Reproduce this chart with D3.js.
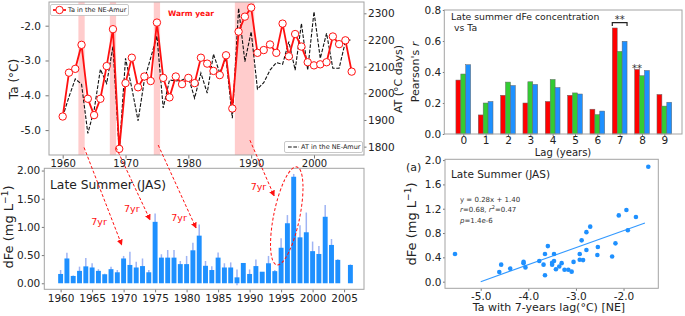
<!DOCTYPE html>
<html><head><meta charset="utf-8">
<script src="https://cdn.jsdelivr.net/npm/d3@7"></script>
<style>body{margin:0;background:#fff}svg{display:block}text{font-family:"DejaVu Sans",sans-serif}</style>
</head><body><svg id="c" width="685" height="316"></svg>
<script>
// ---------------- DATA ----------------
const years = d3.range(1960, 2007);
const taNE = [-4.61,-3.35,-3.24,-2.55,-4.10,-4.57,-4.10,-3.16,-2.10,-5.54,
  -3.65,-2.92,-3.77,-3.46,-3.59,-1.91,-3.50,-4.06,-3.46,-3.68,
  -3.50,-3.65,-2.92,-3.09,-3.30,-3.42,-2.85,-4.38,-2.17,-1.74,
  -1.48,-2.78,-2.70,-2.54,-2.78,-1.94,-2.88,-2.24,-2.60,-3.05,
  -3.14,-3.11,-3.05,-2.31,-2.53,-2.42,-3.32];
const atNE = [1912,1987,2054,2034,1850,1937,2090,2037,2175,1780,
  2131,2020,1897,2050,2132,2215,1945,2050,2046,2050,
  2061,1982,2076,2001,2147,2076,2132,1907,2319,2119,
  2231,2016,2040,2087,2115,2109,2194,2087,2262,2087,
  2306,2131,2225,2094,2094,2194,2202];
const warmSpans = [[1962.5,1963.5],[1967.5,1968.5],[1974.5,1975.5],[1987.4,1990.5]];
const dfe = [0.165,0.44,0.13,0.22,0.30,0.28,0.22,0.16,0.25,0.195,
  0.44,0.325,0.28,0.305,0.195,1.09,0.455,0.455,0.455,0.34,
  0.34,0.585,0.845,0.31,0.235,0.455,0.28,0.28,0.105,0.36,
  0.165,0.305,0.205,0.355,0.215,0.63,1.065,1.89,0.815,0.905,
  0.57,0.52,1.18,0.68,0.415,null,0.325];
const dfeErr = [0.07,0.10,0.01,0.075,0.15,0.075,0.03,0.01,0.045,0.04,
  0.045,0.235,0.10,0.135,0.04,0.15,0.06,0.135,0.135,0.055,
  0.145,0.135,0.2,0.085,0.065,0.09,0.075,0.09,0.14,0.0,
  0.08,0.115,0.0,0.13,0.02,0.17,0.145,0.05,0.215,0.35,
  0.17,0.14,0.21,0.105,0.01,null,0.01];
const lags = [0,1,2,3,4,5,6,7,8,9];
const rRed   = [0.348,0.123,0.25,0.20,0.21,0.25,0.16,0.684,0.417,0.255];
const rGreen = [0.387,0.20,0.335,0.337,0.352,0.265,0.125,0.533,0.376,0.18];
const rBlue  = [0.447,0.21,0.313,0.32,0.30,0.258,0.148,0.598,0.41,0.205];
const lagYears = 7;
const regSlope = 0.28, regIntercept = 1.40, regRange = [-5.0, -1.55];
const topXTicks = [1960,1970,1980,1990,2000];
const taTicks = [-5,-4,-3,-2];
const atTicks = [1800,1900,2000,2100,2200,2300];
const botXTicks = [1960,1965,1970,1975,1980,1985,1990,1995,2000,2005];
const dfeTicks = [0,0.5,1,1.5,2];
const rTicks = [0,0.2,0.4,0.6,0.8];
const scXTicks = [-5,-4,-3,-2];
const scYTicks = [0,0.4,0.8,1.2,1.6,2.0];

// ---------------- SETUP ----------------
const svg = d3.select("#c");
svg.append("rect").attr("width",685).attr("height",316).attr("fill","#fff");
const FRAME = "#a3a3a3", TXT = "#222", RED = "#ff1010", BLUE = "#1e90ff", GREEN = "#33cc33";
const defs = svg.append("defs");
defs.append("marker").attr("id","ah").attr("viewBox","0 0 10 10").attr("refX",9).attr("refY",5)
  .attr("markerWidth",6).attr("markerHeight",6).attr("markerUnits","userSpaceOnUse").attr("orient","auto")
  .append("path").attr("d","M0,0L10,5L0,10z").attr("fill",RED);

function styleAxis(g, fs){
  g.select(".domain").remove();
  g.attr("font-family","DejaVu Sans").attr("font-size",fs);
  g.selectAll(".tick line").attr("stroke","#777");
  g.selectAll(".tick text").attr("fill",TXT);
}
function frame(x0,y0,x1,y1){
  svg.append("rect").attr("x",x0).attr("y",y0).attr("width",x1-x0).attr("height",y1-y0)
    .attr("fill","none").attr("stroke",FRAME).attr("stroke-width",1);
}
function vlabel(x,y,fs,parts){
  const t = svg.append("text").attr("transform",`translate(${x},${y}) rotate(-90)`)
    .attr("text-anchor","middle").attr("font-size",fs).attr("fill",TXT);
  parts.forEach(p=>{
    const s = t.append("tspan").text(p.t);
    if(p.i) s.attr("font-style","italic");
    if(p.sup) s.attr("baseline-shift","super").attr("font-size",fs*0.7);
  });
  return t;
}

// ---------------- TOP LEFT ----------------
const TL = {x0:49,x1:364,y0:2,y1:155};
const xT = d3.scaleLinear().domain([1957.82,2007.96]).range([TL.x0,TL.x1]);
const yT = d3.scaleLinear().domain([-5.716,-1.319]).range([TL.y1,TL.y0]);
const yA = d3.scaleLinear().domain([1768.7,2342.4]).range([TL.y1,TL.y0]);
const gTL = svg.append("g");
gTL.selectAll("rect.span").data(warmSpans).join("rect")
  .attr("x",d=>xT(d[0])).attr("width",d=>xT(d[1])-xT(d[0]))
  .attr("y",TL.y0).attr("height",TL.y1-TL.y0).attr("fill","#ffcccc");
gTL.append("path").datum(years.map((y,i)=>[y,atNE[i]]))
  .attr("d",d3.line().x(d=>xT(d[0])).y(d=>yA(d[1])))
  .attr("fill","none").attr("stroke","#111").attr("stroke-width",1.1).attr("stroke-dasharray","3.7,1.6");
gTL.append("path").datum(years.map((y,i)=>[y,taNE[i]]))
  .attr("d",d3.line().x(d=>xT(d[0])).y(d=>yT(d[1])))
  .attr("fill","none").attr("stroke",RED).attr("stroke-width",1.8);
gTL.selectAll("circle").data(years.map((y,i)=>[y,taNE[i]])).join("circle")
  .attr("cx",d=>xT(d[0])).attr("cy",d=>yT(d[1])).attr("r",3.7)
  .attr("fill","#fff").attr("stroke",RED).attr("stroke-width",1);
styleAxis(svg.append("g").attr("transform",`translate(0,${TL.y1})`)
  .call(d3.axisBottom(xT).tickValues(topXTicks).tickFormat(d3.format("d")).tickSize(3.5).tickPadding(1)),10);
styleAxis(svg.append("g").attr("transform",`translate(${TL.x0},0)`)
  .call(d3.axisLeft(yT).tickValues(taTicks).tickFormat(d=>d.toFixed(1)).tickSize(3.5).tickPadding(4.5)),10.5);
styleAxis(svg.append("g").attr("transform",`translate(${TL.x1},0)`)
  .call(d3.axisRight(yA).tickValues(atTicks).tickFormat(d3.format("d")).tickSize(2.5).tickPadding(1.5)),10.5);
frame(TL.x0,TL.y0,TL.x1,TL.y1);
// legends
svg.append("rect").attr("x",50.5).attr("y",4.5).attr("width",78).attr("height",11).attr("rx",1.5)
  .attr("fill","#fff").attr("stroke","#bbb").attr("stroke-width",0.8);
svg.append("line").attr("x1",53).attr("x2",66).attr("y1",10).attr("y2",10).attr("stroke",RED).attr("stroke-width",1.8);
svg.append("circle").attr("cx",59.5).attr("cy",10).attr("r",3.7).attr("fill","#fff").attr("stroke",RED);
svg.append("text").attr("x",68).attr("y",12.4).attr("font-size",6.5).attr("fill",TXT).text("Ta in the NE-Amur");
svg.append("rect").attr("x",284.5).attr("y",141.5).attr("width",78).attr("height",11).attr("rx",1.5)
  .attr("fill","#fff").attr("stroke","#bbb").attr("stroke-width",0.8);
svg.append("line").attr("x1",288).attr("x2",299).attr("y1",147).attr("y2",147).attr("stroke","#111")
  .attr("stroke-width",1.1).attr("stroke-dasharray","3.7,1.6");
svg.append("text").attr("x",301).attr("y",149.4).attr("font-size",6.5).attr("fill",TXT).text("AT in the NE-Amur");
svg.append("text").attr("x",191).attr("y",16).attr("text-anchor","middle").attr("font-size",7.5)
  .attr("font-weight","bold").attr("fill",RED).text("Warm year");
vlabel(18,79,12,[{t:"Ta (°C)"}]);
vlabel(402,79,11,[{t:"AT (°C days)"}]);

// ---------------- BOTTOM LEFT ----------------
const BL = {x0:44.3,x1:364,y0:168.3,y1:289.3};
const xB = d3.scaleLinear().domain([1957.41,2008.16]).range([BL.x0,BL.x1]);
const yB = d3.scaleLinear().domain([-0.107,2.04]).range([BL.y1,BL.y0]);
const bw = xB(1960.39)-xB(1960);
const barData = years.map((y,i)=>({y, v:dfe[i], e:dfeErr[i]})).filter(d=>d.v!==null);
svg.append("g").selectAll("line").data(barData).join("line")
  .attr("x1",d=>xB(d.y)).attr("x2",d=>xB(d.y)).attr("y1",d=>yB(d.v-d.e)).attr("y2",d=>yB(d.v+d.e))
  .attr("stroke","#9fb4f4").attr("stroke-width",1.5);
svg.append("g").selectAll("rect").data(barData).join("rect")
  .attr("x",d=>xB(d.y)-bw).attr("width",bw*2).attr("y",d=>yB(d.v)).attr("height",d=>yB(0)-yB(d.v))
  .attr("fill",BLUE);
styleAxis(svg.append("g").attr("transform",`translate(0,${BL.y1})`)
  .call(d3.axisBottom(xB).tickValues(botXTicks).tickFormat(d3.format("d")).tickSize(3).tickPadding(2)),10.5);
styleAxis(svg.append("g").attr("transform",`translate(${BL.x0},0)`)
  .call(d3.axisLeft(yB).tickValues(dfeTicks).tickFormat(d3.format(".2f")).tickSize(2.5).tickPadding(1.5)),10.5);
frame(BL.x0,BL.y0,BL.x1,BL.y1);
svg.append("text").attr("x",50).attr("y",189).attr("font-size",12.3).attr("fill",TXT).text("Late Summer (JAS)");
vlabel(13,227,13,[{t:"dFe (mg L"},{t:"−1",sup:true},{t:")"}]);

// ---------------- TOP RIGHT ----------------
const TR = {x0:444.3,x1:682,y0:10,y1:134};
const xR = d3.scaleLinear().domain([-0.85,9.79]).range([TR.x0,TR.x1]);
const yR = d3.scaleLinear().domain([0,0.8]).range([TR.y1,TR.y0]);
const bwR = 0.22;
const series = [{vals:rRed,c:"#ff0000",off:-bwR},{vals:rGreen,c:GREEN,off:0},{vals:rBlue,c:BLUE,off:bwR}];
series.forEach(s=>{
  svg.append("g").selectAll("rect").data(lags.map((l,i)=>({l,v:s.vals[i]}))).join("rect")
    .attr("x",d=>xR(d.l+s.off-bwR/2)).attr("width",xR(bwR)-xR(0))
    .attr("y",d=>yR(d.v)).attr("height",d=>yR(0)-yR(d.v))
    .attr("fill",s.c).attr("stroke","#666").attr("stroke-width",0.5);
});
styleAxis(svg.append("g").attr("transform",`translate(0,${TR.y1})`)
  .call(d3.axisBottom(xR).tickValues(lags).tickFormat(d3.format("d")).tickSize(2).tickPadding(1)),10.5);
styleAxis(svg.append("g").attr("transform",`translate(${TR.x0},0)`)
  .call(d3.axisLeft(yR).tickValues(rTicks).tickFormat(d3.format(".1f")).tickSize(1.5).tickPadding(1.5)),10.5);
frame(TR.x0,TR.y0,TR.x1,TR.y1);
svg.append("text").attr("x",451).attr("y",20).attr("font-size",9.3).attr("fill",TXT).text("Late summer dFe concentration");
svg.append("text").attr("x",451).attr("y",31).attr("font-size",9.3).attr("fill",TXT).text(" vs Ta").attr("xml:space","preserve");
// significance marks
const bx0 = xR(7-1.5*bwR), bx1 = xR(7+1.5*bwR), by = yR(0.718), byd = yR(0.697);
svg.append("path").attr("d",`M${bx0},${byd}V${by}H${bx1}V${byd}`).attr("fill","none").attr("stroke","#222").attr("stroke-width",1.2);
svg.append("text").attr("x",(bx0+bx1)/2).attr("y",yR(0.715)).attr("text-anchor","middle").attr("font-size",10).attr("fill","#333").text("**");
svg.append("text").attr("x",xR(8-bwR)).attr("y",yR(0.398)).attr("text-anchor","middle").attr("font-size",10).attr("fill","#333").text("**");
vlabel(419,72,11,[{t:"Pearson's "},{t:"r",i:true}]);
svg.append("text").attr("x",563).attr("y",156).attr("text-anchor","middle").attr("font-size",10).attr("fill",TXT).text("Lag (years)");

// ---------------- BOTTOM RIGHT (scatter) ----------------
const BR = {x0:445,x1:658.3,y0:159.3,y1:288.3};
svg.append("rect").attr("x",BR.x0).attr("y",BR.y0).attr("width",BR.x1-BR.x0).attr("height",BR.y1-BR.y0).attr("fill","#fff");
const xS = d3.scaleLinear().domain([-5.75,-1.27]).range([BR.x0,BR.x1]);
const yS = d3.scaleLinear().domain([-0.109,2.013]).range([BR.y1,BR.y0]);
const pts = years.map((y,i)=>({ta: taNE[years.indexOf(y-lagYears)], v: dfe[i]}))
  .filter(d=>d.ta!==undefined && d.v!==null);
svg.append("line").attr("x1",xS(regRange[0])).attr("x2",xS(regRange[1]))
  .attr("y1",yS(regSlope*regRange[0]+regIntercept)).attr("y2",yS(regSlope*regRange[1]+regIntercept))
  .attr("stroke","#3399ff").attr("stroke-width",1.1);
svg.append("g").selectAll("circle").data(pts).join("circle")
  .attr("cx",d=>xS(d.ta)).attr("cy",d=>yS(d.v)).attr("r",2.3).attr("fill",BLUE);
styleAxis(svg.append("g").attr("transform",`translate(0,${BR.y1})`)
  .call(d3.axisBottom(xS).tickValues(scXTicks).tickFormat(d=>d.toFixed(1)).tickSize(2.5).tickPadding(2)),10.5);
styleAxis(svg.append("g").attr("transform",`translate(${BR.x0},0)`)
  .call(d3.axisLeft(yS).tickValues(scYTicks).tickFormat(d3.format(".1f")).tickSize(2).tickPadding(1.5)),10.5);
frame(BR.x0,BR.y0,BR.x1,BR.y1);
svg.append("text").attr("x",451).attr("y",178).attr("font-size",10.5).attr("fill",TXT).text("Late Summer (JAS)");
const ann = svg.append("g").attr("font-size",7).attr("fill","#333");
ann.append("text").attr("x",460).attr("y",201.5).text("y = 0.28x + 1.40");
const t2 = ann.append("text").attr("x",460).attr("y",212);
t2.append("tspan").attr("font-style","italic").text("r");
t2.append("tspan").text("=0.68, ");
t2.append("tspan").attr("font-style","italic").text("r");
t2.append("tspan").attr("baseline-shift","super").attr("font-size",5).text("2");
t2.append("tspan").text("=0.47");
const t3 = ann.append("text").attr("x",460).attr("y",222.5);
t3.append("tspan").attr("font-style","italic").text("p");
t3.append("tspan").text("=1.4e-6");
svg.append("text").attr("x",406).attr("y",171).attr("font-size",11).attr("fill",TXT).text("(a)");
vlabel(416,224,13,[{t:"dFe (mg L"},{t:"−1",sup:true},{t:")"}]);
svg.append("text").attr("x",549).attr("y",311).attr("text-anchor","middle").attr("font-size",11).attr("fill",TXT).text("Ta with 7-years lag(°C) [NE]");

// ---------------- CROSS-PANEL ANNOTATIONS ----------------
const arrowDefs = [
  {fromYear:1963.4, fromTa:-5.50, toYear:1969.7, toVal:0.68},
  {fromYear:1968.5, fromTa:-5.50, toYear:1974.2, toVal:1.125},
  {fromYear:1975.2, fromTa:-5.43, toYear:1981.5, toVal:0.98},
  {fromYear:1989.8, fromTa:-5.29, toYear:1993.9, toVal:1.55}
];
const lagLabels = [{year:1966.1,val:1.09},{year:1971.3,val:1.32},{year:1978.8,val:1.165},{year:1991.4,val:1.71}];
svg.append("g").selectAll("line").data(arrowDefs).join("line")
  .attr("x1",d=>xT(d.fromYear)).attr("y1",d=>yT(d.fromTa))
  .attr("x2",d=>xB(d.toYear)).attr("y2",d=>yB(d.toVal))
  .attr("stroke",RED).attr("stroke-width",1).attr("stroke-dasharray","3,2").attr("marker-end","url(#ah)");
svg.append("g").selectAll("text").data(lagLabels).join("text")
  .attr("x",d=>xB(d.year)).attr("y",d=>yB(d.val)).attr("dy","0.35em").attr("text-anchor","middle")
  .attr("font-size",9.5).attr("fill",RED).text("7yr");
svg.append("ellipse").attr("transform",`translate(${xB(1995.9)},${yB(1.195)}) rotate(11.6)`)
  .attr("rx",13).attr("ry",50).attr("fill","none").attr("stroke",RED).attr("stroke-width",1).attr("stroke-dasharray","3,2");
</script></body></html>
